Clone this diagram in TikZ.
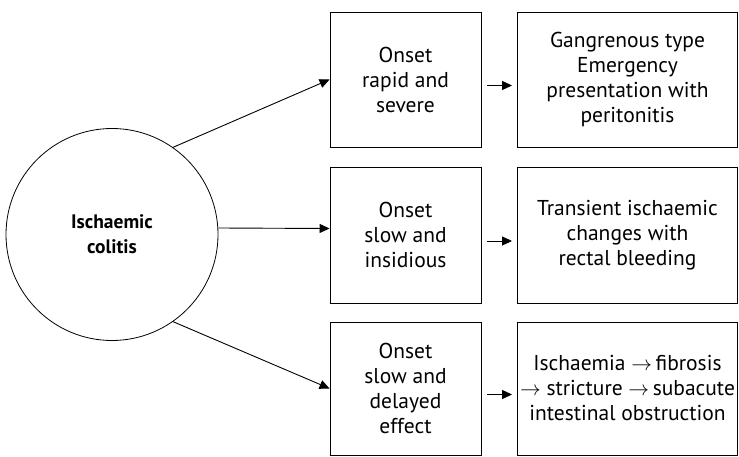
\documentclass[tikz,border=0pt]{standalone}
\usepackage{fontspec}
\setmainfont{PT Sans}
\usetikzlibrary{arrows.meta}
\begin{document}
\begin{tikzpicture}[x=1pt,y=1pt,
  box/.style={draw,line width=0.9pt,align=center,inner sep=2pt,
    font=\fontsize{21.5}{25}\selectfont},
  conn/.style={line width=0.9pt,-{Triangle[length=10pt,width=9pt]}}]
\useasboundingbox (0,0) rectangle (739,456);
\node[draw,circle,line width=0.8pt,minimum size=212pt,inner sep=0pt,align=center,
  font=\fontsize{19.5}{25}\selectfont\bfseries] (c) at (112,221.5) {Ischaemic\\colitis};
\node[box,minimum width=151pt,minimum height=135pt] (a1) at (405.5,376.5) {Onset\\rapid and\\severe};
\node[box,minimum width=151pt,minimum height=136pt] (a2) at (405.5,221) {Onset\\slow and\\insidious};
\node[box,minimum width=151pt,minimum height=133pt] (a3) at (405.5,67.5) {Onset\\slow and\\delayed\\effect};
\node[box,minimum width=220pt,minimum height=135pt] (b1) at (627.5,376.5) {Gangrenous type\\Emergency\\presentation with\\peritonitis};
\node[box,minimum width=220pt,minimum height=136pt] (b2) at (627.5,221) {Transient ischaemic\\changes with\\rectal bleeding};
\node[box,minimum width=220pt,minimum height=133pt] (b3) at (627.5,67.5) {Ischaemia $\rightarrow$\,fibrosis\\$\rightarrow$ stricture $\rightarrow$\,subacute\\intestinal obstruction};
\draw[conn] (c.55) -- (a1.west);
\draw[conn] ([yshift=6.5pt]c.east) -- ([yshift=6.5pt]a2.west);
\draw[conn] (c.-55) -- (a3.west);
\foreach \i in {1,2,3}{
  \draw[conn] ([xshift=6pt,yshift=-6pt]a\i.east) -- ([xshift=-5pt,yshift=-6pt]b\i.west);
}
\end{tikzpicture}
\end{document}
